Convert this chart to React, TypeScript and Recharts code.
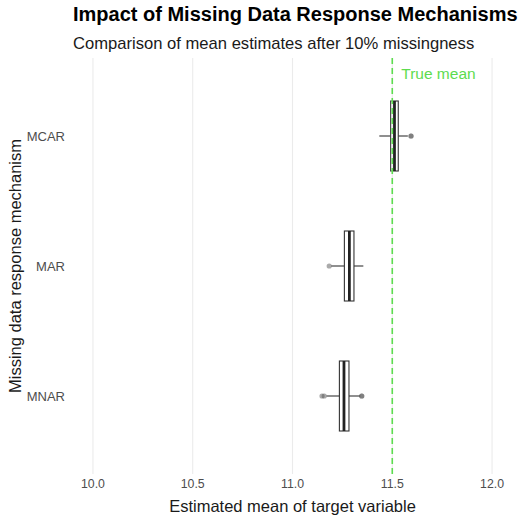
import { ComposedChart, Bar, XAxis, YAxis, ReferenceLine } from 'recharts'

const MECHANISMS = ['MCAR', 'MAR', 'MNAR']
const WHISKER_LOW = [11.435, 11.194, 11.17]
const Q1 = [11.492, 11.26, 11.235]
const MEDIAN = [11.511, 11.285, 11.258]
const Q3 = [11.53, 11.308, 11.283]
const WHISKER_HIGH = [11.578, 11.355, 11.34]
// repeated values are overlapping points (drawn darker)
const OUTLIERS = [[11.594, 11.594], [11.184], [11.148, 11.159, 11.347, 11.347]]

const X_TICKS = [10, 10.5, 11, 11.5, 12]
const TRUE_MEAN = 11.5

const GREEN = '#5ddc4f'
const FONT = '"Liberation Sans", Arial, sans-serif'

const data = MECHANISMS.map((name, i) => ({
  name,
  range: [WHISKER_LOW[i], WHISKER_HIGH[i]],
  q1: Q1[i],
  median: MEDIAN[i],
  q3: Q3[i],
  outliers: OUTLIERS[i],
}))

function BoxShape(props: any) {
  const { x, y, width, height, index } = props
  const d = props.payload ?? data[index]
  const [lo, hi] = d.range
  const px = (v: number) => x + ((v - lo) / (hi - lo)) * width
  const cy = y + height / 2
  return (
    <g>
      <line x1={px(lo)} x2={px(d.q1)} y1={cy} y2={cy} stroke="#333" strokeWidth={1.1} />
      <line x1={px(d.q3)} x2={px(hi)} y1={cy} y2={cy} stroke="#333" strokeWidth={1.1} />
      <rect x={px(d.q1)} y={y} width={px(d.q3) - px(d.q1)} height={height} fill="#fff" stroke="#333" strokeWidth={1.1} />
      <line x1={px(d.median)} x2={px(d.median)} y1={y} y2={y + height} stroke="#222" strokeWidth={2.8} />
      {d.outliers.map((v: number, k: number) => (
        <circle key={k} cx={px(v)} cy={cy} r={2.6} fill="#555" fillOpacity={0.5} />
      ))}
    </g>
  )
}

function TrueMeanLabel(props: any) {
  const { viewBox } = props
  return (
    <text x={viewBox.x + 9} y={viewBox.y + 21} fill={GREEN} fontSize={15.5} fontFamily={FONT}>
      True mean
    </text>
  )
}

export default function App() {
  return (
    <div style={{ position: 'absolute', left: 0, top: 0, width: 520, height: 520, background: '#fff', fontFamily: FONT }}>
      <div style={{ position: 'absolute', left: 73, top: 3, fontSize: 20, fontWeight: 'bold', color: '#000', whiteSpace: 'nowrap' }}>
        Impact of Missing Data Response Mechanisms
      </div>
      <div style={{ position: 'absolute', left: 73, top: 34, fontSize: 16.6, color: '#1a1a1a', whiteSpace: 'nowrap' }}>
        Comparison of mean estimates after 10% missingness
      </div>
      <ComposedChart
        width={520}
        height={520}
        data={data}
        layout="vertical"
        margin={{ top: 58, right: 8, bottom: 0, left: 0 }}
        style={{ position: 'absolute', left: 0, top: 0 }}
      >
        <XAxis
          type="number"
          domain={[9.9, 12.1]}
          ticks={X_TICKS}
          tickFormatter={(v: number) => v.toFixed(1)}
          axisLine={false}
          tickLine={false}
          tickSize={2}
          tickMargin={3}
          height={46}
          tick={{ fontSize: 12.3, fill: '#4d4d4d', fontFamily: FONT }}
          label={{ value: 'Estimated mean of target variable', position: 'insideBottom', offset: 8, fontSize: 16.5, fill: '#1a1a1a', fontFamily: FONT }}
        />
        <YAxis
          type="category"
          dataKey="name"
          width={73}
          axisLine={false}
          tickLine={false}
          tickSize={4}
          tickMargin={4}
          padding={{ top: 13, bottom: 13 }}
          tick={{ fontSize: 13, fill: '#4d4d4d', fontFamily: FONT }}
          label={{ value: 'Missing data response mechanism', angle: -90, position: 'insideLeft', offset: 15, fontSize: 16.5, fill: '#1a1a1a', fontFamily: FONT, style: { textAnchor: 'middle' } }}
        />
        {X_TICKS.map((t) => (
          <ReferenceLine key={t} x={t} stroke="#ebebeb" strokeWidth={1.1} />
        ))}
        <Bar dataKey="range" barSize={70} shape={BoxShape} isAnimationActive={false} />
        <ReferenceLine x={TRUE_MEAN} stroke={GREEN} strokeWidth={1.6} strokeDasharray="6 4" label={<TrueMeanLabel />} />
      </ComposedChart>
    </div>
  )
}
